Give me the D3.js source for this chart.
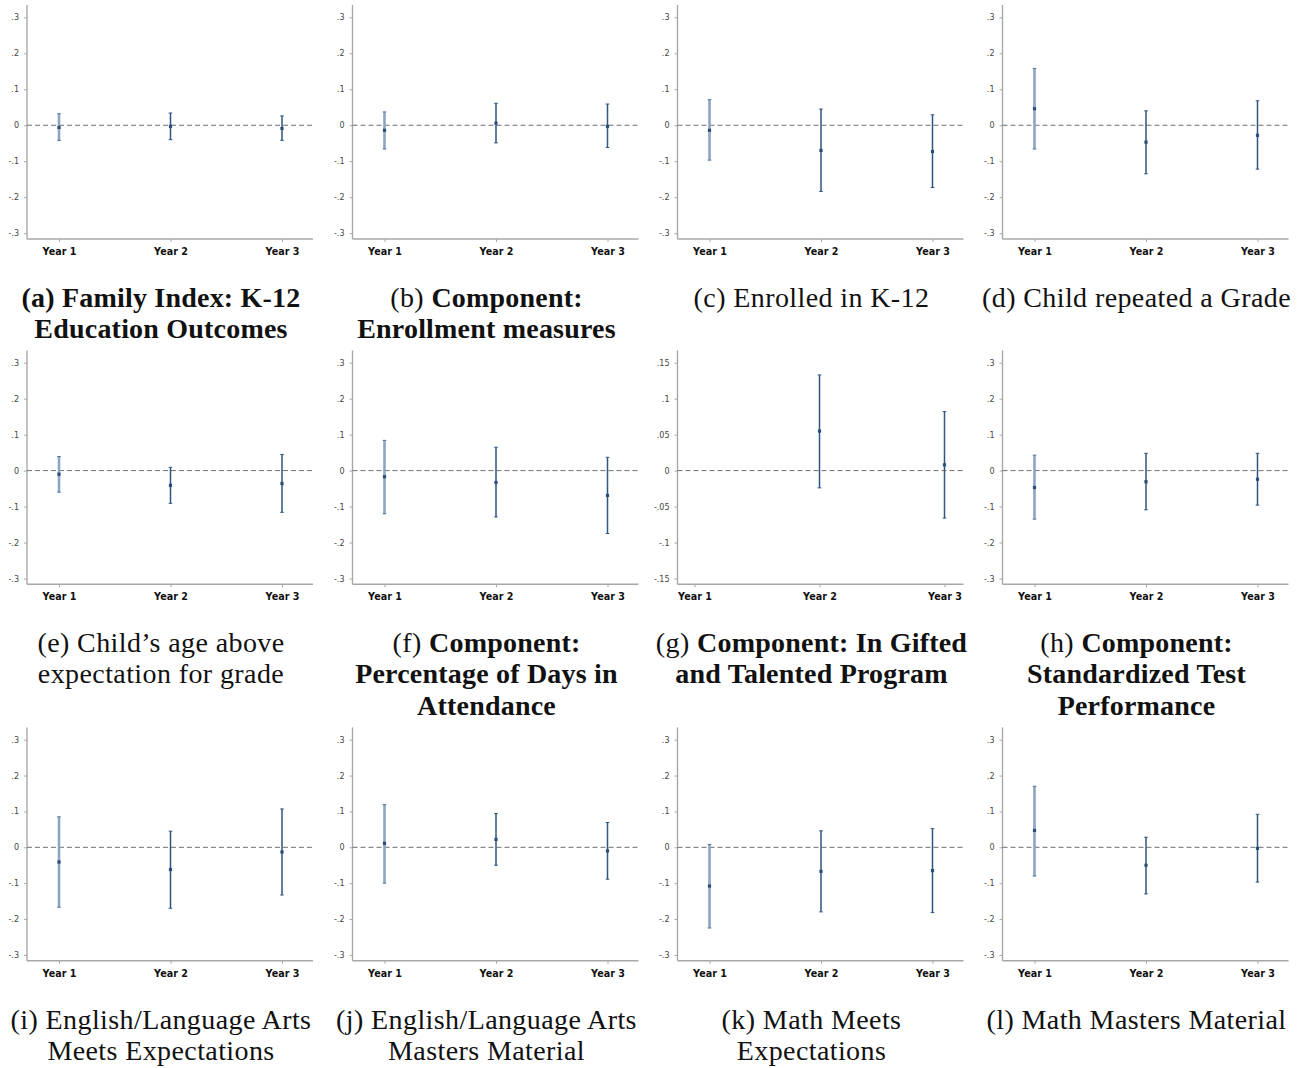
<!DOCTYPE html>
<html><head><meta charset="utf-8">
<script src="https://cdn.jsdelivr.net/npm/d3@7"></script>
<style>
body{margin:0;background:#fff;}
svg{display:block;}
</style></head>
<body>
<svg id="chart" width="1307" height="1068"></svg>
<script>
// ---- Data ----
const years = ["Year 1", "Year 2", "Year 3"];
const ticksMain = [-0.3, -0.2, -0.1, 0, 0.1, 0.2, 0.3];
const ticksG = [-0.15, -0.1, -0.05, 0, 0.05, 0.1, 0.15];

// (a) Family Index: K-12 Education Outcomes
const estA = [-0.006, -0.003, -0.009];
const loA  = [-0.042, -0.040, -0.042];
const hiA  = [0.032, 0.034, 0.026];
// (b) Enrollment measures
const estB = [-0.014, 0.006, -0.003];
const loB  = [-0.066, -0.049, -0.062];
const hiB  = [0.037, 0.061, 0.059];
// (c) Enrolled in K-12
const estC = [-0.014, -0.070, -0.073];
const loC  = [-0.097, -0.184, -0.173];
const hiC  = [0.071, 0.045, 0.029];
// (d) Child repeated a Grade
const estD = [0.046, -0.047, -0.028];
const loD  = [-0.066, -0.135, -0.122];
const hiD  = [0.158, 0.040, 0.068];
// (e) Child's age above expectation for grade
const estE = [-0.010, -0.041, -0.036];
const loE  = [-0.060, -0.091, -0.116];
const hiE  = [0.039, 0.009, 0.045];
// (f) Percentage of Days in Attendance
const estF = [-0.017, -0.033, -0.069];
const loF  = [-0.120, -0.129, -0.175];
const hiF  = [0.084, 0.065, 0.037];
// (g) In Gifted and Talented Program (no Year 1 estimate)
const estG = [null, 0.055, 0.008];
const loG  = [null, -0.024, -0.066];
const hiG  = [null, 0.133, 0.082];
// (h) Standardized Test Performance
const estH = [-0.047, -0.031, -0.024];
const loH  = [-0.135, -0.109, -0.096];
const hiH  = [0.043, 0.048, 0.048];
// (i) English/Language Arts Meets Expectations
const estI = [-0.041, -0.062, -0.013];
const loI  = [-0.167, -0.170, -0.133];
const hiI  = [0.085, 0.045, 0.107];
// (j) English/Language Arts Masters Material
const estJ = [0.011, 0.022, -0.010];
const loJ  = [-0.100, -0.050, -0.089];
const hiJ  = [0.119, 0.094, 0.069];
// (k) Math Meets Expectations
const estK = [-0.108, -0.067, -0.065];
const loK  = [-0.225, -0.180, -0.182];
const hiK  = [0.008, 0.046, 0.052];
// (l) Math Masters Material
const estL = [0.047, -0.050, -0.003];
const loL  = [-0.080, -0.130, -0.097];
const hiL  = [0.170, 0.028, 0.092];

// captions: arrays of lines, each line = list of [text, bold]
const captions = [
  [[["(a) Family Index: K-12", true]], [["Education Outcomes", true]]],
  [[["(b) ", false], ["Component:", true]], [["Enrollment measures", true]]],
  [[["(c) Enrolled in K-12", false]]],
  [[["(d) Child repeated a Grade", false]]],
  [[["(e) Child\u2019s age above", false]], [["expectation for grade", false]]],
  [[["(f) ", false], ["Component:", true]], [["Percentage of Days in", true]], [["Attendance", true]]],
  [[["(g) ", false], ["Component: In Gifted", true]], [["and Talented Program", true]]],
  [[["(h) ", false], ["Component:", true]], [["Standardized Test", true]], [["Performance", true]]],
  [[["(i) English/Language Arts", false]], [["Meets Expectations", false]]],
  [[["(j) English/Language Arts", false]], [["Masters Material", false]]],
  [[["(k) Math Meets", false]], [["Expectations", false]]],
  [[["(l) Math Masters Material", false]]]
];

const panels = [
  {est: estA, lo: loA, hi: hiA, ticks: ticksMain},
  {est: estB, lo: loB, hi: hiB, ticks: ticksMain},
  {est: estC, lo: loC, hi: hiC, ticks: ticksMain},
  {est: estD, lo: loD, hi: hiD, ticks: ticksMain},
  {est: estE, lo: loE, hi: hiE, ticks: ticksMain},
  {est: estF, lo: loF, hi: hiF, ticks: ticksMain},
  {est: estG, lo: loG, hi: hiG, ticks: ticksG, wide: true},
  {est: estH, lo: loH, hi: hiH, ticks: ticksMain},
  {est: estI, lo: loI, hi: hiI, ticks: ticksMain},
  {est: estJ, lo: loJ, hi: hiJ, ticks: ticksMain},
  {est: estK, lo: loK, hi: hiK, ticks: ticksMain},
  {est: estL, lo: loL, hi: hiL, ticks: ticksMain}
];

// ---- Layout ----
const svg = d3.select("#chart");
const colX = [27, 352.5, 677.5, 1002.5];
const plotW = 286;
const rowTop = [5, 350.4, 727.4];
const rowBot = [239, 584.3, 960.7];
const capBase = [[307, 338], [652, 683, 715], [1029, 1060]];

const axisColor = "#a8a8a8";
const darkBar = "#2f5580";
const lightBar = "#8ba5c2";

const fmtTick = v => {
  if (v === 0) return "0";
  let s = String(+v.toFixed(2));
  return s.replace("0.", ".");
};

panels.forEach((p, i) => {
  const r = Math.floor(i / 4), c = i % 4;
  const x0 = colX[c], top = rowTop[r], bot = rowBot[r];
  const g = svg.append("g").attr("transform", `translate(${x0},0)`);

  const tmax = d3.max(p.ticks), tmin = d3.min(p.ticks);
  const yTickTop = top + 12.3, yTickBot = bot - 5.8;
  const y = d3.scaleLinear().domain([tmin, tmax]).range([yTickBot, yTickTop]);

  const x = d3.scalePoint().domain(years)
    .range(p.wide ? [17, 267] : [32, 255]);

  // y axis
  const yAxis = d3.axisLeft(y).tickValues(p.ticks).tickFormat(fmtTick)
    .tickSize(3).tickPadding(5);
  const ya = g.append("g").call(yAxis);
  ya.select(".domain").remove();
  ya.selectAll(".tick line").attr("stroke", axisColor).attr("stroke-width", 1);
  ya.selectAll(".tick text").attr("font-family", "DejaVu Sans, sans-serif")
    .attr("font-size", 8).attr("fill", "#444");
  g.append("line").attr("x1", 0).attr("x2", 0).attr("y1", top).attr("y2", bot)
    .attr("stroke", axisColor).attr("stroke-width", 1.4);

  // x axis
  const xAxis = d3.axisBottom(x).tickSize(3).tickPadding(6);
  const xa = g.append("g").attr("transform", `translate(0,${bot})`).call(xAxis);
  xa.select(".domain").remove();
  xa.selectAll(".tick line").attr("stroke", axisColor).attr("stroke-width", 1);
  xa.selectAll(".tick text").attr("font-family", "DejaVu Sans, sans-serif")
    .attr("font-weight", "bold").attr("font-size", 9.6).attr("fill", "#111");
  g.append("line").attr("x1", 0).attr("x2", plotW).attr("y1", bot).attr("y2", bot)
    .attr("stroke", axisColor).attr("stroke-width", 1.4);

  // zero reference line
  g.append("line").attr("x1", 0).attr("x2", plotW)
    .attr("y1", y(0)).attr("y2", y(0))
    .attr("stroke", "#6f6f6f").attr("stroke-width", 1)
    .attr("stroke-dasharray", "5,3");

  // error bars
  const data = years.map((yr, k) => ({yr, k, est: p.est[k], lo: p.lo[k], hi: p.hi[k]}))
    .filter(d => d.est !== null);
  const eb = g.selectAll(".eb").data(data).enter().append("g");
  eb.append("line")
    .attr("x1", d => x(d.yr)).attr("x2", d => x(d.yr))
    .attr("y1", d => y(d.lo)).attr("y2", d => y(d.hi))
    .attr("stroke", d => d.k === 0 ? lightBar : darkBar)
    .attr("stroke-width", d => d.k === 0 ? 2.6 : 1.5);
  ["lo", "hi"].forEach(key => {
    eb.append("line")
      .attr("x1", d => x(d.yr) - 1.8).attr("x2", d => x(d.yr) + 1.8)
      .attr("y1", d => y(d[key])).attr("y2", d => y(d[key]))
      .attr("stroke", d => d.k === 0 ? "#4f7299" : darkBar)
      .attr("stroke-width", 1);
  });
  eb.append("rect")
    .attr("x", d => x(d.yr) - 1.6).attr("y", d => y(d.est) - 1.6)
    .attr("width", 3.2).attr("height", 3.2)
    .attr("fill", "#2a4d77");

  // caption
  const cx = x0 + 134;
  const lines = captions[i];
  lines.forEach((ln, li) => {
    const t = svg.append("text")
      .attr("x", cx).attr("y", capBase[r][li])
      .attr("text-anchor", "middle")
      .attr("font-family", "Liberation Serif, serif")
      .attr("font-size", 28).attr("fill", "#111");
    ln.forEach(([txt, b]) => {
      t.append("tspan").attr("font-weight", b ? "bold" : "normal")
        .attr("letter-spacing", b ? 0.2 : 0.4).text(txt);
    });
  });
});
</script>
</body></html>
